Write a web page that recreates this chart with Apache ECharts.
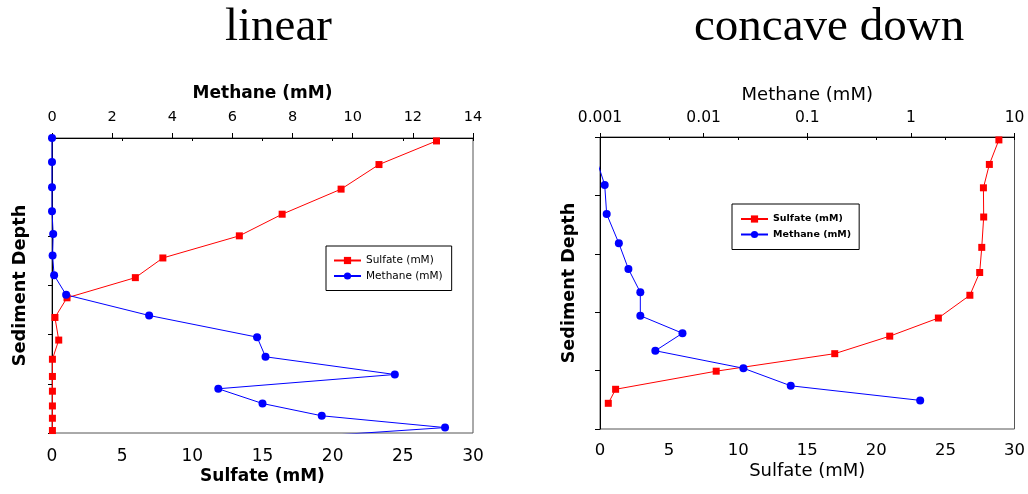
<!DOCTYPE html>
<html>
<head>
<meta charset="utf-8">
<script src="https://cdn.jsdelivr.net/npm/echarts@6/dist/echarts.min.js"></script>
<style>
  html, body { margin: 0; padding: 0; background: #fff; }
  #chart { width: 1028px; height: 494px; }
</style>
</head>
<body>
<div id="chart"></div>
<script>
// linear profile (left panel)
var linSulfate = [27.4, 23.3, 20.6, 16.4, 13.35, 7.9, 5.94, 1.07, 0.21, 0.48, 0.03, 0.03, 0.03, 0.03, 0.03, 0.03];
var linSulfateDepth = [0.06, 0.54, 1.04, 1.55, 1.99, 2.44, 2.84, 3.25, 3.65, 4.11, 4.5, 4.85, 5.15, 5.45, 5.7, 5.95];
var linMethane = [0, 0, 0, 0, 0.04, 0.02, 0.07, 0.47, 3.23, 6.82, 7.1, 11.4, 5.53, 7.0, 8.97, 13.07, 5.5];
var linMethaneDepth = [0.0, 0.49, 1.0, 1.49, 1.95, 2.39, 2.79, 3.19, 3.61, 4.05, 4.45, 4.81, 5.1, 5.4, 5.65, 5.89, 6.2];

// concave down profile (right panel)
var conSulfate = [28.87, 28.18, 27.75, 27.77, 27.63, 27.48, 26.77, 24.49, 20.97, 16.99, 8.41, 1.13, 0.6];
var conSulfateDepth = [0.05, 0.47, 0.87, 1.37, 1.89, 2.32, 2.71, 3.1, 3.41, 3.71, 4.01, 4.32, 4.56];
var conMethane = [0.00095, 0.00111, 0.00116, 0.00152, 0.00188, 0.00245, 0.00245, 0.00625, 0.00342, 0.0242, 0.0693, 1.23];
var conMethaneDepth = [0.45, 0.82, 1.32, 1.82, 2.26, 2.66, 3.06, 3.36, 3.66, 3.96, 4.26, 4.51];

var titles = ["linear", "concave down"];
var seriesNames = ["Sulfate (mM)", "Methane (mM)"];

function pairs(xs, ys) {
  return xs.map(function (v, i) { return [v, ys[i]]; });
}

var sans = "DejaVu Sans";
var black = "#000";

function axisLine() { return { show: true, lineStyle: { color: black, width: 1 } }; }

var chart = echarts.init(document.getElementById("chart"));
var option = {
  animation: false,
  title: [
    { text: titles[0], left: 225, top: 4, padding: 0,
      textStyle: { fontFamily: "Liberation Serif", fontSize: 47, fontWeight: "normal", color: black } },
    { text: titles[1], left: 694, top: 4, padding: 0,
      textStyle: { fontFamily: "Liberation Serif", fontSize: 47, fontWeight: "normal", color: black } }
  ],
  grid: [
    { left: 52, top: 138, width: 421, height: 295, show: true, borderColor: "#555", borderWidth: 1 },
    { left: 600, top: 137, width: 417, height: 292, show: true, borderColor: "#555", borderWidth: 1 }
  ],
  xAxis: [
    {
      gridIndex: 0, type: "value", position: "bottom", min: 0, max: 30, interval: 5,
      name: "Sulfate (mM)", nameLocation: "middle", nameGap: 35, nameMoveOverlap: false,
      nameTextStyle: { fontFamily: sans, fontSize: 17, fontWeight: "bold", color: black },
      axisLine: axisLine(), axisTick: { show: true, inside: false, length: 3, lineStyle: { color: black } },
      axisLabel: { margin: 15, fontFamily: sans, fontSize: 17, color: black },
      splitLine: { show: false }
    },
    {
      gridIndex: 0, type: "value", position: "top", min: 0, max: 14, interval: 2,
      name: "Methane (mM)", nameLocation: "middle", nameGap: 36, nameMoveOverlap: false,
      nameTextStyle: { fontFamily: sans, fontSize: 17, fontWeight: "bold", color: black },
      axisLine: axisLine(), axisTick: { show: true, inside: false, length: 5, lineStyle: { color: black } },
      axisLabel: { margin: 13, fontFamily: sans, fontSize: 14.5, color: black },
      splitLine: { show: false }
    },
    {
      gridIndex: 1, type: "value", position: "bottom", min: 0, max: 30, interval: 5,
      name: "Sulfate (mM)", nameLocation: "middle", nameGap: 33, nameMoveOverlap: false,
      nameTextStyle: { fontFamily: sans, fontSize: 18, color: black },
      axisLine: axisLine(), axisTick: { show: true, inside: false, length: 3, lineStyle: { color: black } },
      axisLabel: { margin: 13, fontFamily: sans, fontSize: 16.5, color: black },
      splitLine: { show: false }
    },
    {
      gridIndex: 1, type: "log", logBase: 10, position: "top", min: 0.001, max: 10,
      name: "Methane (mM)", nameLocation: "middle", nameGap: 33, nameMoveOverlap: false,
      nameTextStyle: { fontFamily: sans, fontSize: 18, color: black },
      axisLine: axisLine(), axisTick: { show: true, inside: false, length: 4, lineStyle: { color: black } },
      axisLabel: { margin: 11, fontFamily: sans, fontSize: 15.5, color: black },
      minorTick: { show: false },
      splitLine: { show: false }
    }
  ],
  yAxis: [
    {
      gridIndex: 0, type: "value", inverse: true, min: 0, max: 6, interval: 1,
      name: "Sediment Depth", nameLocation: "middle", nameGap: 23, nameMoveOverlap: false,
      nameTextStyle: { fontFamily: sans, fontSize: 17.7, fontWeight: "bold", color: black },
      axisLine: axisLine(), axisTick: { show: true, inside: false, length: 4, lineStyle: { color: black } },
      axisLabel: { show: false }, splitLine: { show: false }
    },
    {
      gridIndex: 1, type: "value", inverse: true, min: 0, max: 5, interval: 1,
      name: "Sediment Depth", nameLocation: "middle", nameGap: 22, nameMoveOverlap: false,
      nameTextStyle: { fontFamily: sans, fontSize: 17.6, fontWeight: "bold", color: black },
      axisLine: axisLine(), axisTick: { show: true, inside: false, length: 5, lineStyle: { color: black } },
      axisLabel: { show: false }, splitLine: { show: false }
    }
  ],
  legend: [
    {
      data: seriesNames, orient: "vertical", left: 326, top: 246, selectedMode: false,
      itemWidth: 27, itemHeight: 9, itemGap: 4.5, padding: [9, 9, 9, 7],
      borderColor: black, borderWidth: 1, backgroundColor: "#fff",
      textStyle: { fontFamily: sans, fontSize: 10.5, color: black }
    },
    {
      data: seriesNames, orient: "vertical", left: 732, top: 204, selectedMode: false,
      itemWidth: 27, itemHeight: 9, itemGap: 5.5, padding: [10, 8, 10, 8],
      borderColor: black, borderWidth: 1, backgroundColor: "#fff",
      textStyle: { fontFamily: sans, fontSize: 9.5, fontWeight: "bold", color: black }
    }
  ],
  series: [
    {
      name: seriesNames[0], type: "line", xAxisIndex: 0, yAxisIndex: 0,
      data: pairs(linSulfate, linSulfateDepth),
      symbol: "rect", symbolSize: 7, clip: true,
      itemStyle: { color: "#ff0000" }, lineStyle: { color: "#ff0000", width: 1 }
    },
    {
      name: seriesNames[1], type: "line", xAxisIndex: 1, yAxisIndex: 0,
      data: pairs(linMethane, linMethaneDepth),
      symbol: "circle", symbolSize: 8, clip: true,
      itemStyle: { color: "#0000ff" }, lineStyle: { color: "#0000ff", width: 1 }
    },
    {
      name: seriesNames[0], type: "line", xAxisIndex: 2, yAxisIndex: 1,
      data: pairs(conSulfate, conSulfateDepth),
      symbol: "rect", symbolSize: 7, clip: true,
      itemStyle: { color: "#ff0000" }, lineStyle: { color: "#ff0000", width: 1 }
    },
    {
      name: seriesNames[1], type: "line", xAxisIndex: 3, yAxisIndex: 1,
      data: pairs(conMethane, conMethaneDepth),
      symbol: "circle", symbolSize: 8, clip: true,
      itemStyle: { color: "#0000ff" }, lineStyle: { color: "#0000ff", width: 1 }
    }
  ]
};
chart.setOption(option);
</script>
</body>
</html>
